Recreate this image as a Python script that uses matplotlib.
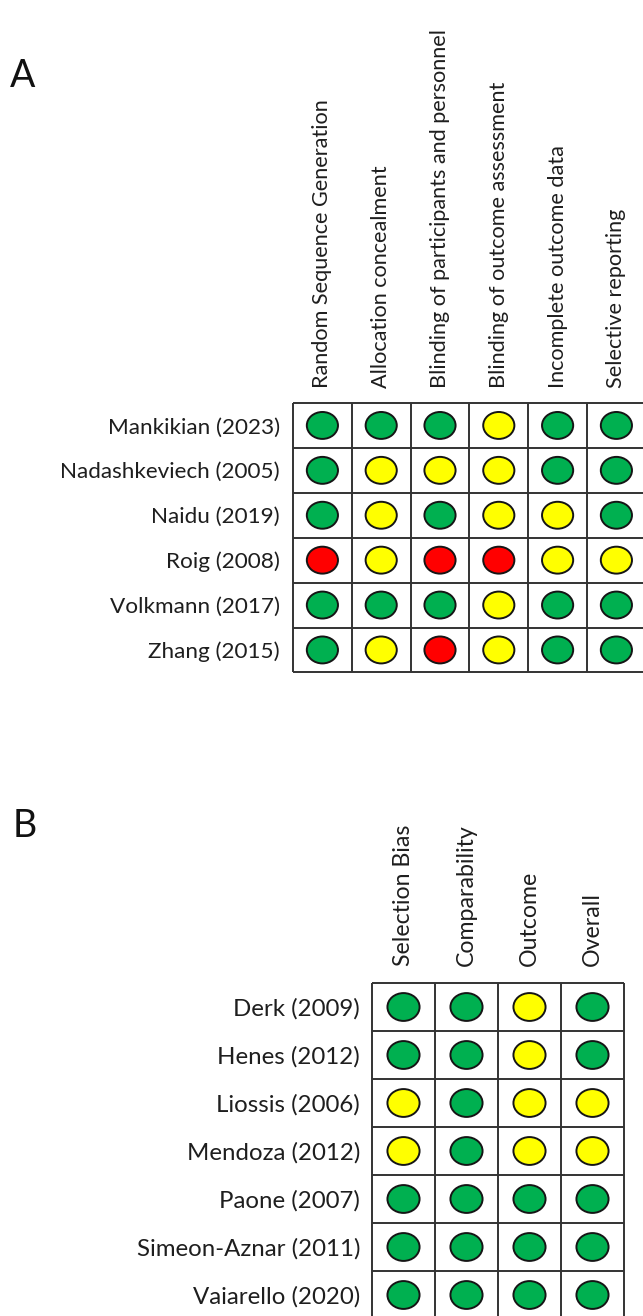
import numpy as np
import matplotlib
matplotlib.use('Agg')
import matplotlib.pyplot as plt
from matplotlib.patches import Ellipse
from matplotlib.textpath import TextPath
from matplotlib.font_manager import FontProperties

# --- Dados do painel A (RCTs, RoB) ---
estudos_a = ['Mankikian (2023)', 'Nadashkeviech (2005)', 'Naidu (2019)',
             'Roig (2008)', 'Volkmann (2017)', 'Zhang (2015)']
dominios_a = ['Random Sequence Generation', 'Allocation concealment',
              'Blinding of participants and personnel',
              'Blinding of outcome assessment', 'Incomplete outcome data',
              'Selective reporting']
# L = baixo risco, U = incerto, H = alto risco
risco_a = [
    ['L', 'L', 'L', 'U', 'L', 'L'],
    ['L', 'U', 'U', 'U', 'L', 'L'],
    ['L', 'U', 'L', 'U', 'U', 'L'],
    ['H', 'U', 'H', 'H', 'U', 'U'],
    ['L', 'L', 'L', 'U', 'L', 'L'],
    ['L', 'U', 'H', 'U', 'L', 'L'],
]

# --- Dados do painel B (observacionais, NOS) ---
estudos_b = ['Derk (2009)', 'Henes (2012)', 'Liossis (2006)', 'Mendoza (2012)',
             'Paone (2007)', 'Simeon-Aznar (2011)', 'Vaiarello (2020)']
dominios_b = ['Selection Bias', 'Comparability', 'Outcome', 'Overall']
risco_b = [
    ['L', 'L', 'U', 'L'],
    ['L', 'L', 'U', 'L'],
    ['U', 'L', 'U', 'U'],
    ['U', 'L', 'U', 'U'],
    ['L', 'L', 'L', 'L'],
    ['L', 'L', 'L', 'L'],
    ['L', 'L', 'L', 'L'],
]

cores = {'L': '#00B050', 'U': '#FFFF00', 'H': '#FF0000'}

W, H = 643, 1316
FONTE = 'Lato'
fp = FontProperties(family=FONTE)


def tamanho_para(texto, largura_px):
    """Tamanho de fonte (pt) para que o texto ocupe largura_px a 100 dpi."""
    w10 = TextPath((0, 0), texto, size=10, prop=fp).get_extents().width
    return largura_px * 0.72 * 10 / w10


def painel(fig, estudos, dominios, risco, esq, topo, larg_col, alt_lin,
           fs, elw, elh, pad_x, pad_y):
    ncol, nlin = len(dominios), len(estudos)
    ax = fig.add_axes([esq / W, 1 - (topo + nlin * alt_lin) / H,
                       ncol * larg_col / W, nlin * alt_lin / H])
    ax.set_xlim(0, ncol)
    ax.set_ylim(nlin, 0)
    for s in ax.spines.values():
        s.set_visible(False)
    ax.vlines(np.arange(ncol + 1), 0, nlin, color='#333333', lw=1.4, clip_on=False)
    ax.hlines(np.arange(nlin + 1), 0, ncol, color='#333333', lw=1.4, clip_on=False)
    for i, linha in enumerate(risco):
        for j, r in enumerate(linha):
            ax.add_patch(Ellipse((j + 0.5, i + 0.5), elw, elh, facecolor=cores[r],
                                 edgecolor='#151515', lw=1.4))
    ax.xaxis.tick_top()
    ax.set_xticks(np.arange(ncol) + 0.5)
    ax.set_xticklabels(dominios, rotation=90, ha='center', va='bottom',
                       fontsize=fs, family=FONTE, color='#1e1e1e')
    ax.set_yticks(np.arange(nlin) + 0.5)
    ax.set_yticklabels(estudos, fontsize=fs * 1.04, family=FONTE, color='#1e1e1e')
    # pads em pixels -> pontos
    ax.tick_params(axis='x', length=0, pad=pad_x * 0.72)
    ax.tick_params(axis='y', length=0, pad=pad_y * 0.72)
    return ax


fig = plt.figure(figsize=(W / 100, H / 100), dpi=100)

fs_a = tamanho_para('Random Sequence Generation', 285)
fs_b = fs_a * 1.07

painel(fig, estudos_a, dominios_a, risco_a, 293, 403, 58.8, 44.9, fs_a,
       0.53, 0.6, 15, 13)
painel(fig, estudos_b, dominios_b, risco_b, 372, 983, 63.0, 48.0, fs_b,
       0.51, 0.58, 17, 12)

fig.text(10 / W, 1 - 58 / H, 'A', fontsize=27, family=FONTE, color='#111111',
         ha='left', va='top')
fig.text(13 / W, 1 - 808 / H, 'B', fontsize=27, family=FONTE, color='#111111',
         ha='left', va='top')

fig.savefig('out.png', dpi=100)
